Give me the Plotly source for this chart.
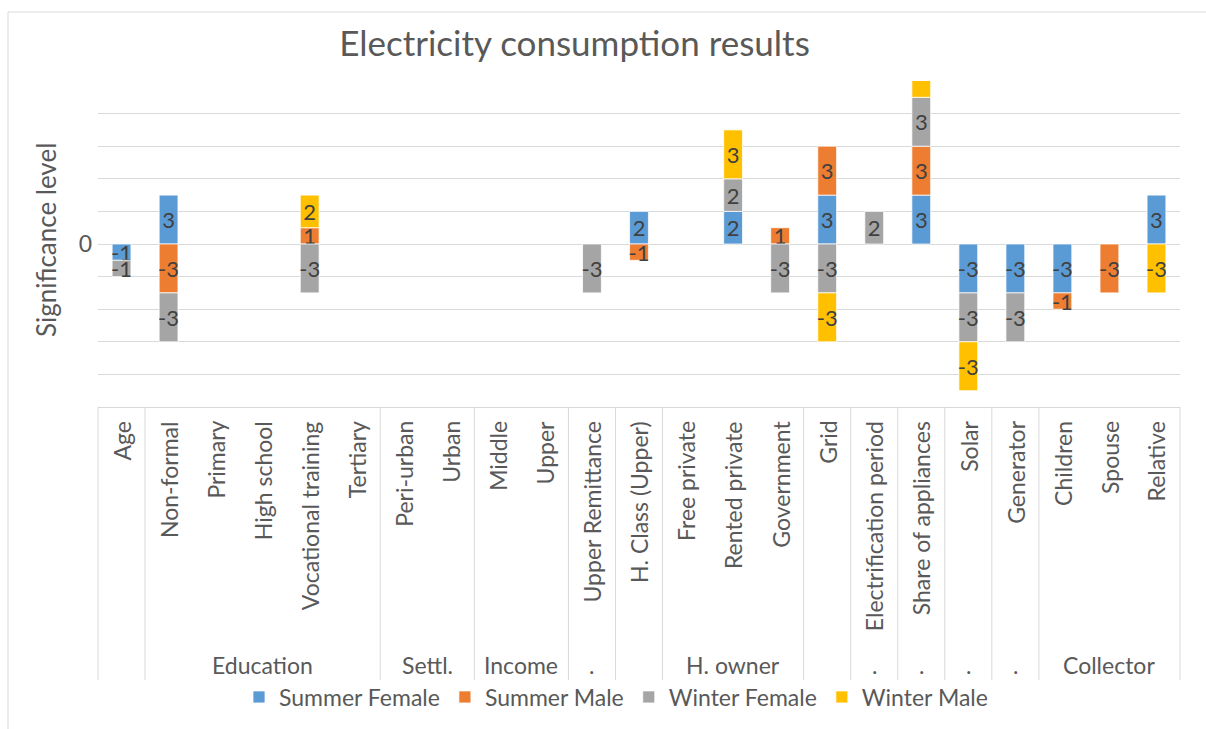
import plotly.graph_objects as go

# ---------------- data ----------------
categories = ["Age", "Non-formal", "Primary", "High school", "Vocational training", "Tertiary",
              "Peri-urban", "Urban", "Middle", "Upper", "Upper Remittance", "H. Class (Upper)",
              "Free private", "Rented private", "Government", "Grid", "Electrification period",
              "Share of appliances", "Solar", "Generator", "Children", "Spouse", "Relative"]
group_labels = ["", "Education", "Settl.", "Income", ".", "", "H. owner", "", ".", ".", ".", ".", "Collector"]
group_sizes = [1, 5, 2, 2, 1, 1, 3, 1, 1, 1, 1, 1, 3]

summer_female = [-1, 3, None, None, None, None, None, None, None, None, None, 2,
                 None, 2, None, 3, None, 3, -3, -3, -3, None, 3]
summer_male = [None, -3, None, None, 1, None, None, None, None, None, None, -1,
               None, None, 1, 3, None, 3, None, None, -1, -3, None]
winter_female = [-1, -3, None, None, -3, None, None, None, None, None, -3, None,
                 None, 2, -3, -3, 2, 3, -3, -3, None, None, None]
winter_male = [None, None, None, None, 2, None, None, None, None, None, None, None,
               None, 3, None, -3, None, 3, -3, None, None, None, -3]

series_names = ["Summer Female", "Summer Male", "Winter Female", "Winter Male"]
series_values = [summer_female, summer_male, winter_female, winter_male]
series_colors = ["#5B9BD5", "#ED7D31", "#A5A5A5", "#FFC000"]

y_tick_values = [-10, -8, -6, -4, -2, 0, 2, 4, 6, 8, 10]
y_tick_labels = ["", "", "", "", "", "0", "", "", "", "", ""]

title_text = "Electricity consumption results"
y_title_text = "Significance level"

# ---------------- style ----------------
FONT = "Lato"
TXT = "#595959"
GRID = "#D9D9D9"
FS = 23
W, H = 1206, 729
L, R, T, B = 98, 26, 81, 322
PH = H - T - B  # plot height in px


def py(pix):
    """pixel y (from top) -> paper y"""
    return (H - B - pix) / PH


def px(pix):
    return (pix - L) / (W - L - R)


fig = go.Figure()
for name, vals, col in zip(series_names, series_values, series_colors):
    fig.add_trace(go.Bar(
        x=categories, y=vals, name=name,
        marker=dict(color=col, line=dict(color="white", width=0.75)),
        text=["" if v is None else str(v) for v in vals],
        texttemplate="%{text}",
        textposition="inside", insidetextanchor="middle", constraintext="none",
        textangle=0,
        textfont=dict(family=FONT, size=22, color="#404040"),
        insidetextfont=dict(family=FONT, size=22, color="#404040"),
        hoverinfo="skip",
    ))

annotations = []
# inner category labels
for c in categories:
    annotations.append(dict(
        x=c, xref="x", y=0, yref="paper", yshift=-12,
        text=c, textangle=-90, showarrow=False,
        xanchor="center", yanchor="top",
        font=dict(family=FONT, size=FS, color=TXT)))

# group labels and dividers
shapes = []
n = len(categories)
start = 0
bounds = [0]
for lab, size in zip(group_labels, group_sizes):
    center = start + (size - 1) / 2
    if lab:
        annotations.append(dict(
            x=center, xref="x", y=py(665), yref="paper",
            text=lab, showarrow=False, xanchor="center", yanchor="middle",
            font=dict(family=FONT, size=FS, color=TXT)))
    start += size
    bounds.append(start)

for b in bounds:
    shapes.append(dict(type="line", xref="paper", yref="paper",
                       x0=b / n, x1=b / n, y0=0, y1=py(680),
                       line=dict(color=GRID, width=1)))

# outer chart border
shapes.append(dict(type="rect", xref="paper", yref="paper",
                   x0=px(8), x1=px(1215), y0=py(740), y1=py(12),
                   line=dict(color=GRID, width=1), fillcolor="rgba(0,0,0,0)", layer="below"))

# y-axis title
annotations.append(dict(
    x=px(46), xref="paper", y=py(240), yref="paper",
    text=y_title_text, textangle=-90, showarrow=False,
    xanchor="center", yanchor="middle",
    font=dict(family=FONT, size=26, color=TXT)))

fig.update_layout(
    width=W, height=H,
    margin=dict(l=L, r=R, t=T, b=B, autoexpand=False),
    barmode="relative", bargap=0.6,
    plot_bgcolor="white", paper_bgcolor="white",
    font=dict(family=FONT, color=TXT),
    title=dict(text=title_text, x=574.5 / W, xref="container", xanchor="center",
               y=1 - 44 / H, yref="container", yanchor="middle",
               font=dict(family=FONT, size=35, color=TXT)),
    showlegend=True,
    legend=dict(orientation="h", traceorder="normal",
                x=px(616), xanchor="center", y=py(697), yanchor="middle",
                font=dict(family=FONT, size=FS, color=TXT),
                bgcolor="rgba(0,0,0,0)"),
    xaxis=dict(type="category", range=[-0.5, n - 0.5], showticklabels=False,
               showgrid=False, ticks="", showline=True, linecolor=GRID, linewidth=1,
               zeroline=False, fixedrange=True),
    yaxis=dict(range=[-10, 10], tickmode="array", tickvals=y_tick_values, ticktext=y_tick_labels,
               showgrid=True, gridcolor=GRID, gridwidth=1, zeroline=False, showline=False,
               ticks="", ticklabelstandoff=5,
               tickfont=dict(family=FONT, size=FS, color=TXT), fixedrange=True),
    annotations=annotations,
    shapes=shapes,
)

fig.write_html("out.html")
